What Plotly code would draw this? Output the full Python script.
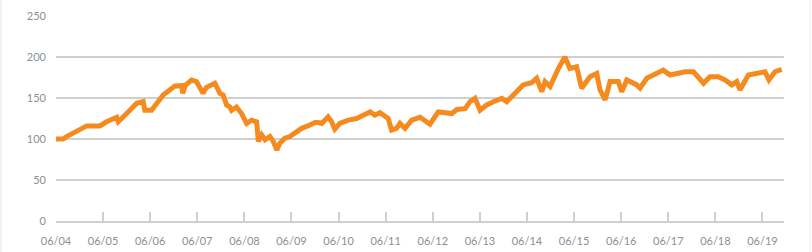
import plotly.graph_objects as go

dates = [
    "2004-06-01", "2004-07-27", "2004-08-22", "2004-11-08", "2005-01-25", "2005-05-07",
    "2005-06-28", "2005-09-15", "2005-09-27", "2005-12-01", "2006-02-17", "2006-04-08",
    "2006-04-21", "2006-06-12", "2006-07-20", "2006-09-10", "2006-11-02", "2006-12-10",
    "2007-02-01", "2007-02-09", "2007-02-27", "2007-04-18", "2007-05-26", "2007-07-16",
    "2007-08-12", "2007-10-02", "2007-10-16", "2007-11-24", "2007-12-19", "2008-01-15",
    "2008-02-10", "2008-02-23", "2008-04-01", "2008-05-10", "2008-06-18", "2008-07-27",
    "2008-09-04", "2008-09-17", "2008-10-13", "2008-11-08", "2008-12-16", "2009-01-11",
    "2009-02-07", "2009-03-03", "2009-04-11", "2009-05-19", "2009-06-28", "2009-08-19",
    "2009-10-22", "2009-12-01", "2009-12-26", "2010-01-21", "2010-03-12", "2010-04-08",
    "2010-05-03", "2010-06-11", "2010-08-15", "2010-10-19", "2010-11-27", "2011-02-01",
    "2011-03-10", "2011-04-18", "2011-06-21", "2011-07-17", "2011-08-25", "2011-09-20",
    "2011-10-29", "2011-12-20", "2012-02-23", "2012-05-10", "2012-07-13", "2012-10-26",
    "2012-12-04", "2013-02-07", "2013-03-16", "2013-04-24", "2013-06-02", "2013-07-24",
    "2013-09-13", "2013-11-18", "2013-12-26", "2014-03-01", "2014-05-03", "2014-07-07",
    "2014-08-15", "2014-09-24", "2014-10-19", "2014-11-27", "2014-12-22", "2015-01-31",
    "2015-03-22", "2015-04-30", "2015-06-21", "2015-07-30", "2015-10-03", "2015-11-24",
    "2015-12-19", "2016-01-28", "2016-03-06", "2016-05-09", "2016-06-05", "2016-07-14",
    "2016-09-30", "2016-10-25", "2016-12-16", "2017-03-03", "2017-04-23", "2017-06-14",
    "2017-09-01", "2017-10-09", "2017-12-13", "2018-02-03", "2018-03-01", "2018-04-20",
    "2018-06-24", "2018-08-15", "2018-10-06", "2018-11-14", "2018-12-09", "2019-02-12",
    "2019-04-17", "2019-06-21", "2019-07-21", "2019-09-06", "2019-10-28",
]
values = [
    100, 100, 103, 109, 116, 116,
    121, 126.5, 121, 131, 143.5, 145.5,
    135, 135, 143.5, 153.7, 160, 164.6,
    165, 155.7, 165, 172, 170, 155.7,
    163, 167, 168, 155.7, 153.7, 141.5,
    139, 135, 139, 131, 119, 123,
    121, 97, 105, 99, 103, 97,
    86.6, 95, 101, 103, 107, 113,
    117, 120, 120, 119, 127, 121,
    112, 119, 123, 125, 128, 133,
    129, 132, 125, 111, 113, 119,
    113, 123, 126.5, 118, 133, 131,
    136, 137, 145.5, 149.6, 135, 141.5,
    145.5, 149.6, 145.5, 155.7, 166, 168.7,
    174, 157.7, 170, 164, 174, 186,
    200, 186, 188, 162, 176, 180,
    160, 147.6, 170, 170, 157.7, 172,
    166, 162, 174, 181, 184, 178,
    180, 182, 182, 174, 168, 176,
    176, 172, 166, 170, 160, 178,
    180, 182, 172, 182, 185,
]

tick_dates = [f"{y}-06-01" for y in range(2004, 2020)]
tick_labels = [f"06/{y % 100:02d}" for y in range(2004, 2020)]
y_ticks = [0, 50, 100, 150, 200, 250]

W, H = 812, 252
ML, MR, MT, MB = 56, 28, 16, 31
pw, ph = W - ML - MR, H - MT - MB

fig = go.Figure()
fig.add_trace(go.Scatter(
    x=dates, y=values, mode="lines",
    line=dict(color="#f58b1f", width=5),
    hoverinfo="skip",
))

font = dict(family="Lato, 'Open Sans', sans-serif", size=11, color="#8a8f96")

fig.update_layout(
    template="none",
    width=W, height=H,
    margin=dict(l=ML, r=MR, t=MT, b=MB, pad=0, autoexpand=False),
    paper_bgcolor="white", plot_bgcolor="white",
    showlegend=False,
    font=font,
    xaxis=dict(
        type="date", automargin=False,
        range=["2004-06-01", "2019-11-15"],
        tickvals=tick_dates, ticktext=tick_labels,
        ticks="inside", ticklen=9, tickwidth=2, tickcolor="#cfcfcf",
        showline=True, linecolor="#cfcfcf", linewidth=2,
        showgrid=False, zeroline=False,
        tickfont=font,
        ticklabelstandoff=9,
    ),
    yaxis=dict(
        automargin=False,
        range=[0, 250],
        tickvals=y_ticks,
        showgrid=True, gridcolor="#cfcfcf", gridwidth=2,
        zeroline=False, showline=False,
        tickfont=font,
        ticks="", ticklabelstandoff=9,
    ),
    shapes=[
        dict(type="rect", xref="paper", yref="paper",
             x0=-ML / pw, x1=(2 - ML) / pw,
             y0=-MB / ph, y1=1 + MT / ph,
             fillcolor="#f2f2f2", line=dict(width=0), layer="below"),
        dict(type="line", xref="paper", yref="paper",
             x0=(810 - ML) / pw, x1=(810 - ML) / pw,
             y0=-MB / ph, y1=1 + MT / ph,
             line=dict(color="#ededed", width=1)),
    ],
)

fig.write_html("out.html")
